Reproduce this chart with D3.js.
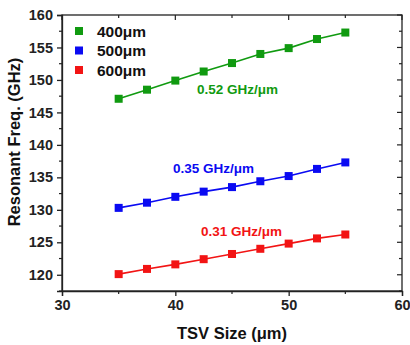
<!DOCTYPE html>
<html>
<head>
<meta charset="utf-8">
<script src="https://cdn.jsdelivr.net/npm/d3@7"></script>
<style>
  body { margin: 0; background: #fff; }
  text { font-family: "Liberation Sans", Arial, sans-serif; font-weight: bold; }
</style>
</head>
<body>
<svg id="chart" width="410" height="345"></svg>
<script>
// TSV sizes (um) and resonant freq (GHz) per substrate thickness
var tsvSize = [35, 37.5, 40, 42.5, 45, 47.5, 50, 52.5, 55];
var freq400 = [147.1, 148.5, 149.9, 151.3, 152.6, 154.0, 154.9, 156.3, 157.3];
var freq500 = [130.3, 131.1, 132.0, 132.8, 133.5, 134.4, 135.2, 136.3, 137.3];
var freq600 = [120.1, 120.9, 121.6, 122.4, 123.2, 124.0, 124.8, 125.6, 126.2];
var seriesNames = ['400\u03bcm', '500\u03bcm', '600\u03bcm'];
var seriesColors = ['#109a10', '#0a0af2', '#f21414'];
var slopeLabels = ['0.52 GHz/\u03bcm', '0.35 GHz/\u03bcm', '0.31 GHz/\u03bcm'];
var xTicks = [30, 40, 50, 60];
var yTicks = [120, 125, 130, 135, 140, 145, 150, 155, 160];

var margin = {left: 62, right: 8, top: 15, bottom: 54};
var svg = d3.select('#chart');
var W = 410, H = 345;
var x = d3.scaleLinear().domain([30, 60]).range([margin.left, W - margin.right]);
var y = d3.scaleLinear().domain([117.5, 160]).range([H - margin.bottom, margin.top]);

var allSeries = [freq400, freq500, freq600];

// frame
svg.append('rect')
  .attr('x', x(30)).attr('y', y(160))
  .attr('width', x(60) - x(30)).attr('height', y(117.5) - y(160))
  .attr('fill', 'none').attr('stroke', '#222').attr('stroke-width', 1.3);

// bottom + left axes (outward ticks)
var xAxis = d3.axisBottom(x).tickValues(xTicks).tickSize(5).tickPadding(4);
var gx = svg.append('g').attr('transform', 'translate(0,' + y(117.5) + ')').call(xAxis);
var yAxis = d3.axisLeft(y).tickValues(yTicks).tickSize(5).tickPadding(4);
var gy = svg.append('g').attr('transform', 'translate(' + x(30) + ',0)').call(yAxis);
[gx, gy].forEach(function(g) {
  g.select('.domain').attr('stroke', '#222').attr('stroke-width', 1.3);
  g.selectAll('.tick line').attr('stroke', '#222').attr('stroke-width', 1.3);
  g.selectAll('.tick text').attr('fill', '#222').style('font-size', '14.5px')
    .style('font-family', '"Liberation Sans", Arial, sans-serif').style('font-weight', 'bold');
});

// minor ticks
var xMinor = [35, 45, 55];
var yMinor = d3.range(117.5, 160, 5);
svg.append('g').selectAll('line').data(xMinor).enter().append('line')
  .attr('x1', function(d) { return x(d); }).attr('x2', function(d) { return x(d); })
  .attr('y1', y(117.5)).attr('y2', y(117.5) + 3)
  .attr('stroke', '#222').attr('stroke-width', 1.2);
svg.append('g').selectAll('line').data(yMinor).enter().append('line')
  .attr('x1', x(30)).attr('x2', x(30) - 3)
  .attr('y1', function(d) { return y(d); }).attr('y2', function(d) { return y(d); })
  .attr('stroke', '#222').attr('stroke-width', 1.2);

// mirrored ticks on top and right, pointing inward
svg.append('g').selectAll('line').data(xTicks.concat(xMinor)).enter().append('line')
  .attr('x1', function(d) { return x(d); }).attr('x2', function(d) { return x(d); })
  .attr('y1', y(160)).attr('y2', function(d) { return y(160) + (d % 10 === 0 ? 5 : 3); })
  .attr('stroke', '#222').attr('stroke-width', 1.2);
svg.append('g').selectAll('line').data(yTicks.concat(yMinor)).enter().append('line')
  .attr('x1', x(60)).attr('x2', function(d) { return x(60) - (d % 5 === 0 ? 5 : 3); })
  .attr('y1', function(d) { return y(d); }).attr('y2', function(d) { return y(d); })
  .attr('stroke', '#222').attr('stroke-width', 1.2);

// lines and square markers
var line = d3.line()
  .x(function(d, i) { return x(tsvSize[i]); })
  .y(function(d) { return y(d); });

allSeries.forEach(function(vals, s) {
  svg.append('path').datum(vals)
    .attr('d', line).attr('fill', 'none')
    .attr('stroke', seriesColors[s]).attr('stroke-width', 1.6);
  svg.append('g').selectAll('rect').data(vals).enter().append('rect')
    .attr('x', function(d, i) { return x(tsvSize[i]) - 4; })
    .attr('y', function(d) { return y(d) - 4; })
    .attr('width', 8).attr('height', 8)
    .attr('fill', seriesColors[s]);
});

// legend
var legend = svg.append('g').attr('transform', 'translate(79,31)');
seriesNames.forEach(function(name, i) {
  legend.append('rect').attr('x', -4).attr('y', i * 19.5 - 4).attr('width', 8).attr('height', 8)
    .attr('fill', seriesColors[i]);
  legend.append('text').attr('x', 18).attr('y', i * 19.5 + 5.5)
    .style('font-size', '15.5px').attr('fill', '#111').text(name);
});

// slope annotations
var slopePos = [[197, 94], [173, 173], [201, 236]];
slopeLabels.forEach(function(lbl, i) {
  svg.append('text').attr('x', slopePos[i][0]).attr('y', slopePos[i][1])
    .style('font-size', '13.5px').attr('fill', seriesColors[i]).text(lbl);
});

// axis titles
svg.append('text').attr('x', 232).attr('y', 339)
  .attr('text-anchor', 'middle').style('font-size', '16.5px').attr('fill', '#111')
  .text('TSV Size (\u03bcm)');
svg.append('text')
  .attr('transform', 'translate(20,142) rotate(-90)')
  .attr('text-anchor', 'middle').style('font-size', '16.5px').attr('fill', '#111')
  .text('Resonant Freq. (GHz)');
</script>
</body>
</html>
